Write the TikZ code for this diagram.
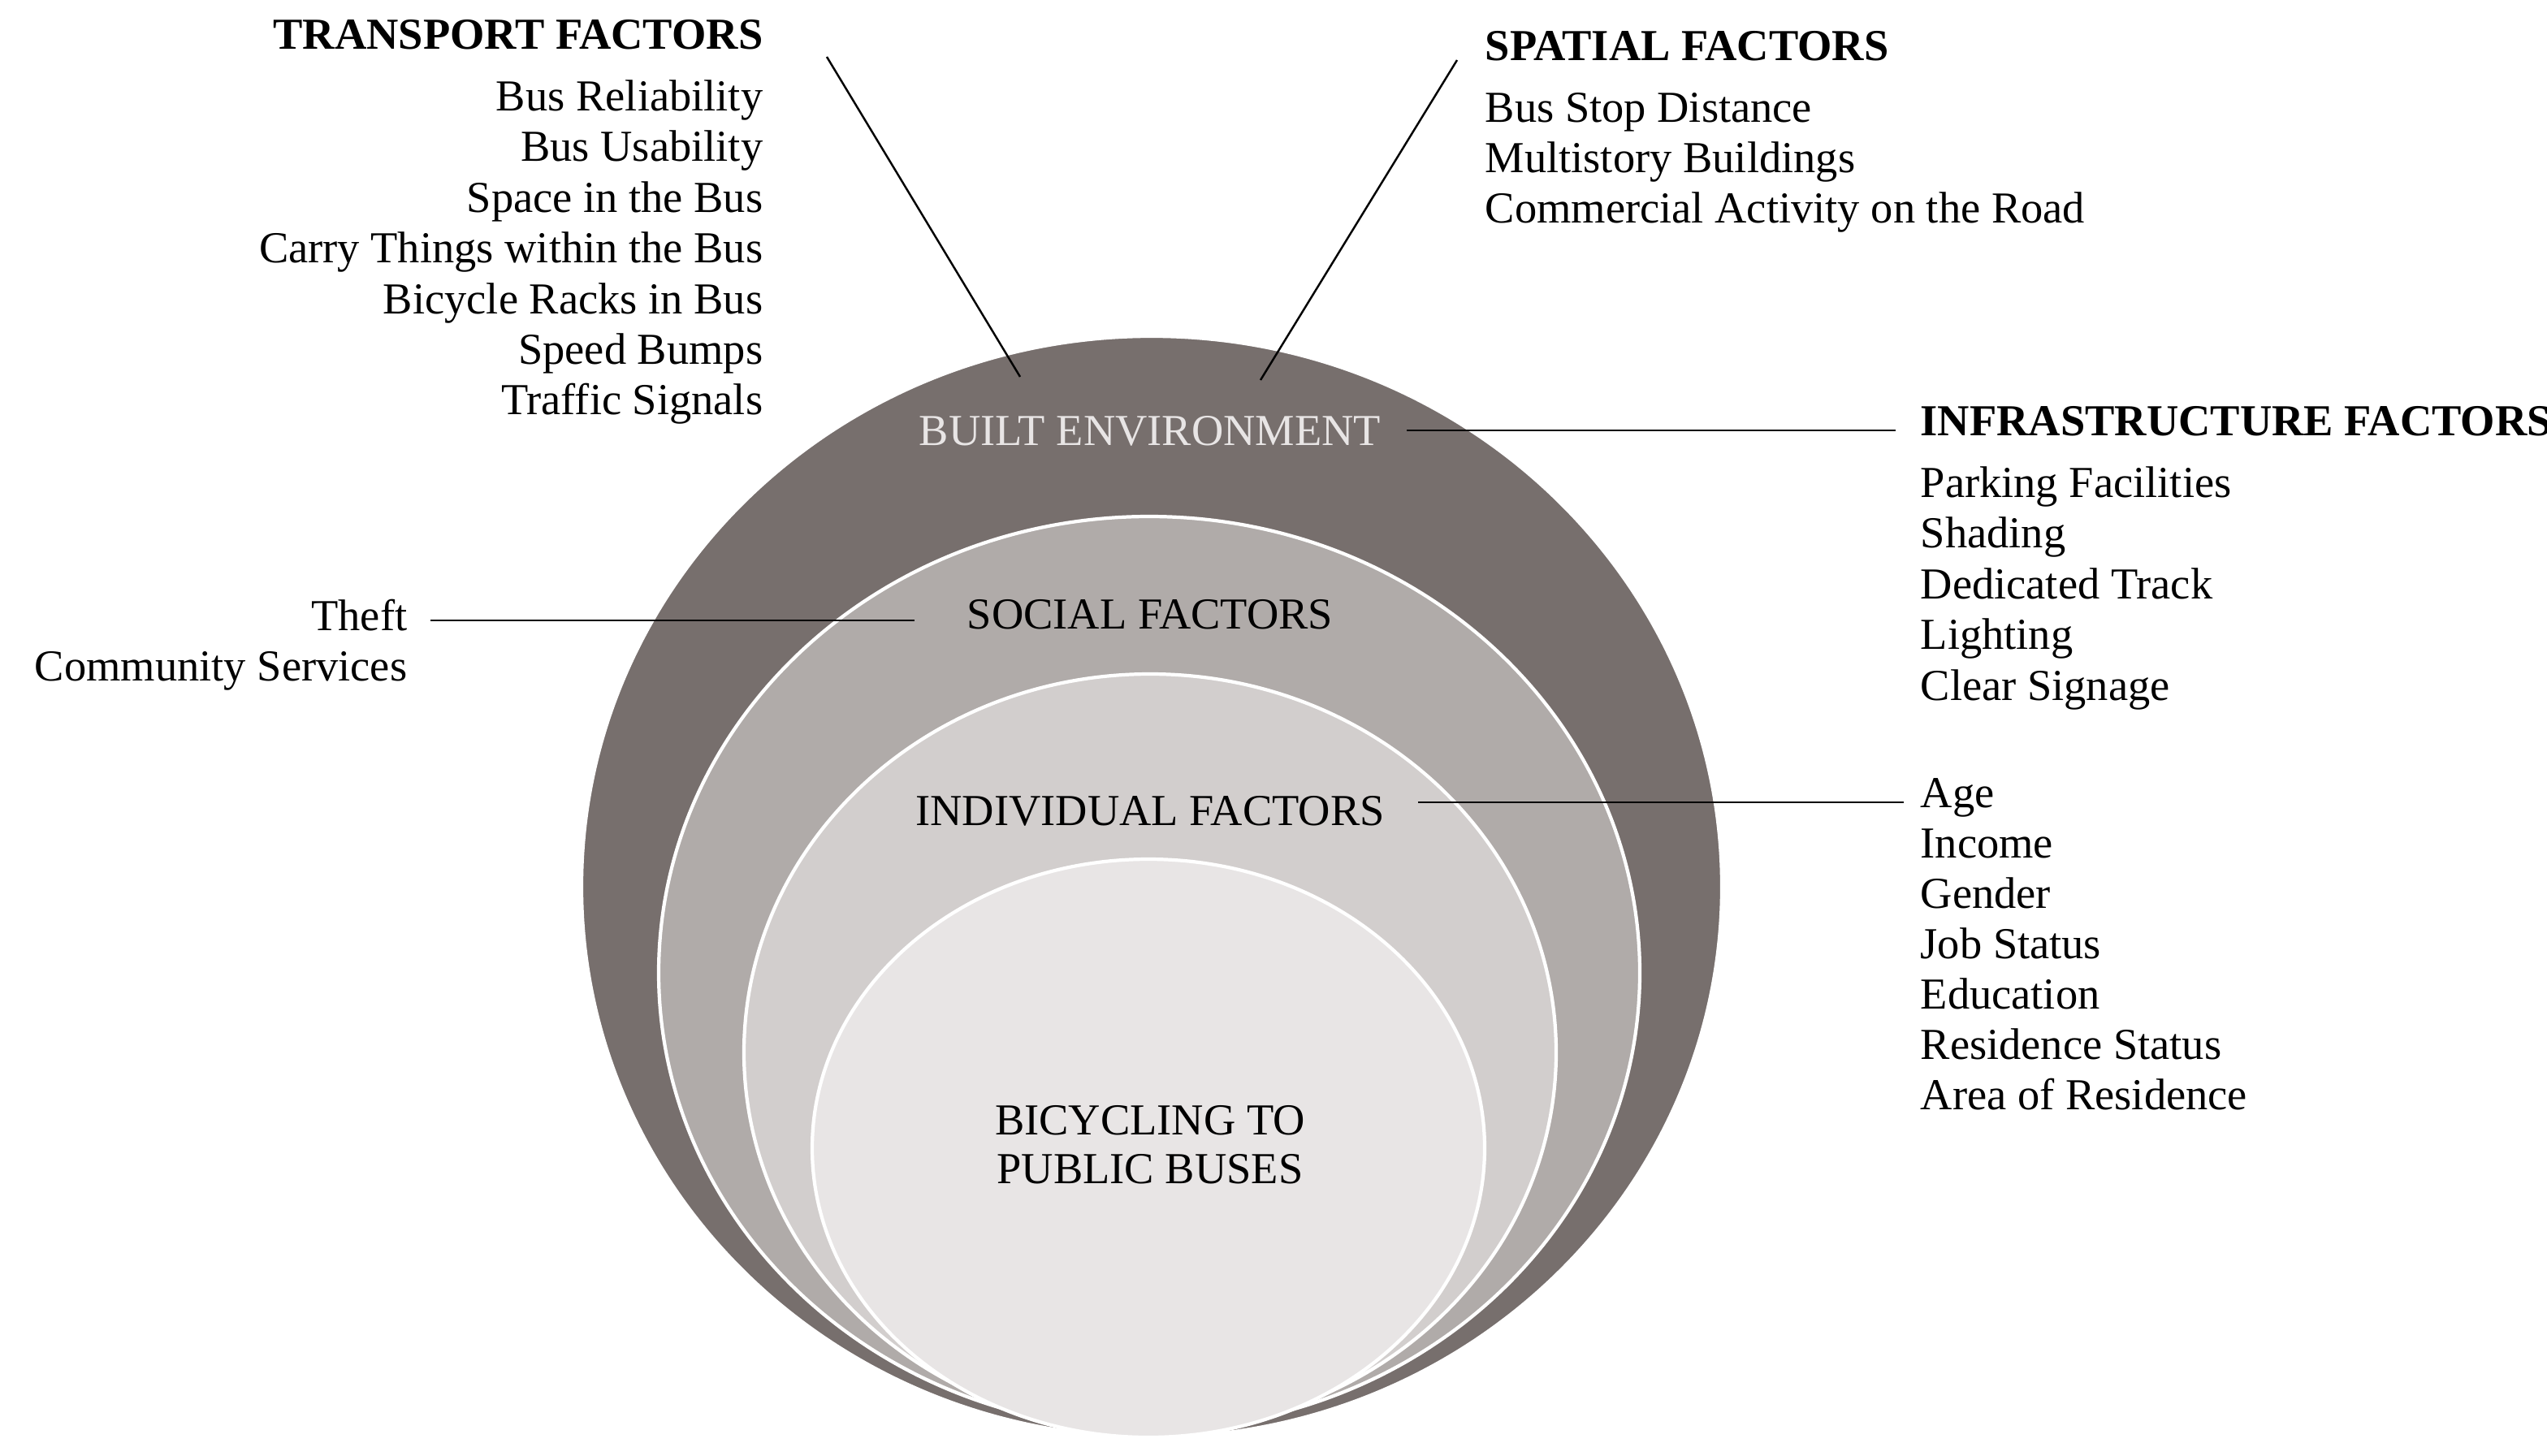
\documentclass[tikz,border=0pt]{standalone}
\usepackage{fontspec}
\setmainfont{Liberation Serif}
\begin{document}
\begin{tikzpicture}[x=0.02cm,y=-0.02cm,
  txt/.style={inner sep=0pt,font=\fontsize{15.5}{18}\selectfont},
  head/.style={txt,font=\fontsize{15.5}{18}\selectfont\bfseries},
  ring/.style={draw=white,line width=1.2pt},
  lead/.style={draw=black,line width=0.7pt}]
\useasboundingbox (0,0) rectangle (1568,896);
\definecolor{c1}{HTML}{776F6D}
\definecolor{c2}{HTML}{B0ABA9}
\definecolor{c3}{HTML}{D2CECD}
\definecolor{c4}{HTML}{E8E5E5}
\path[ring,fill=c1] (709,546) ellipse [x radius=351,y radius=339];
\path[ring,fill=c2] (707.5,599) ellipse [x radius=302,y radius=281];
\path[ring,fill=c3] (708,648) ellipse [x radius=250,y radius=233];
\path[ring,fill=c4] (707,707) ellipse [x radius=207,y radius=178];

\node[txt,text=c4,anchor=base] (be) at (708,274) {BUILT ENVIRONMENT};
\node[txt,anchor=base] (sf) at (708,387) {SOCIAL FACTORS};
\node[txt,anchor=base] (if) at (708,508) {INDIVIDUAL FACTORS};
\node[txt,align=center] (bc) at (708,705) {BICYCLING TO\\[-1pt]PUBLIC BUSES};

% Transport
\node[head,anchor=base east] (th) at (470,30) {TRANSPORT FACTORS};
\foreach \t [count=\i] in {Bus Reliability,Bus Usability,Space in the Bus,Carry Things within the Bus,Bicycle Racks in Bus,Speed Bumps,Traffic Signals}
  \node[txt,anchor=base east] (t\i) at (470,{37+31.2*\i}) {\t};
% Spatial
\node[head,anchor=base west] (sh) at (914,37) {SPATIAL FACTORS};
\foreach \t [count=\i] in {Bus Stop Distance,Multistory Buildings,Commercial Activity on the Road}
  \node[txt,anchor=base west] (s\i) at (914,{44+31*\i}) {\t};
% Infrastructure
\node[head,anchor=base west] (ih) at (1182,268) {INFRASTRUCTURE FACTORS};
\foreach \t [count=\i] in {Parking Facilities,Shading,Dedicated Track,Lighting,Clear Signage}
  \node[txt,anchor=base west] (f\i) at (1182,{275+31.2*\i}) {\t};
% Social
\node[txt,anchor=base east] (so1) at (251,388) {Theft};
\node[txt,anchor=base east] (so2) at (251,419) {Community Services};
% Individual
\foreach \t [count=\i] in {Age,Income,Gender,Job Status,Education,Residence Status,Area of Residence}
  \node[txt,anchor=base west] (a\i) at (1182,{466+31*\i}) {\t};

\coordinate (tA) at (509,35); \coordinate (tB) at (628,232);
\coordinate (sA) at (897,37); \coordinate (sB) at (776,234);
\coordinate (bA) at (866,265); \coordinate (bB) at (1167,265);
\coordinate (oA) at (265,382); \coordinate (oB) at (563,382);
\coordinate (iA) at (873,494); \coordinate (iB) at (1172,494);
\draw[lead] (tA) -- (tB);
\draw[lead] (sA) -- (sB);
\draw[lead] (bA) -- (bB);
\draw[lead] (oA) -- (oB);
\draw[lead] (iA) -- (iB);
\end{tikzpicture}
\end{document}
